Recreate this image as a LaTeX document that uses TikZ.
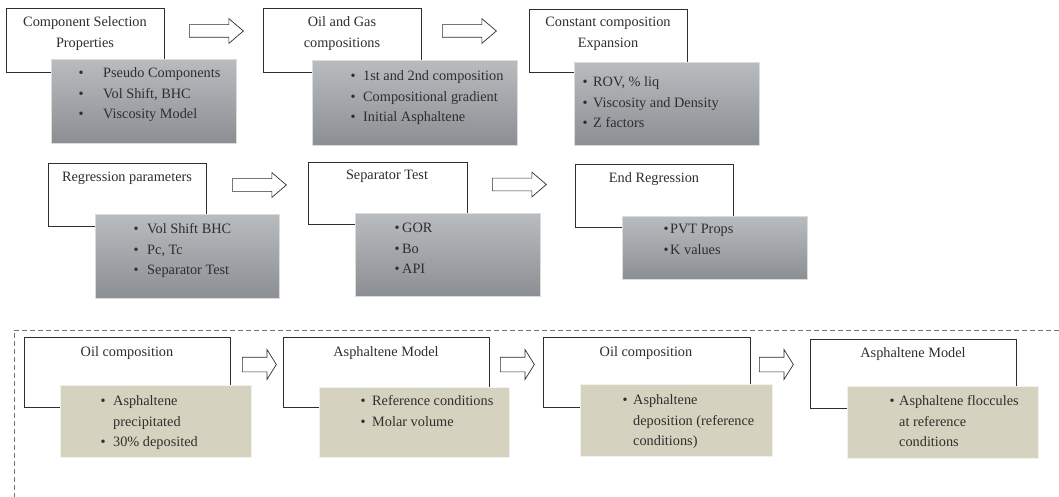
\documentclass[tikz,border=0pt]{standalone}
\usepackage{fontspec}
\setmainfont{Liberation Serif}
\usetikzlibrary{shapes.arrows}
\definecolor{graytop}{HTML}{B9BCBF}
\definecolor{graybot}{HTML}{8B8E92}
\definecolor{tanfill}{HTML}{D5D3BF}
\definecolor{edgelight}{HTML}{DCDCDC}
\definecolor{ink}{HTML}{2E2E2E}
\newcommand{\blist}[2]{\begin{tabular}[t]{@{}l@{\hspace{#1}}l@{}}#2\end{tabular}}
\newcommand{\hlines}[1]{\begin{tabular}[t]{@{}c@{}}#1\end{tabular}}
\tikzset{
  wbox/.style={rectangle, draw=ink, line width=0.9pt, fill=white, inner sep=0pt, anchor=north west},
  gbox/.style={rectangle, draw=edgelight, line width=1.2pt, top color=graytop, bottom color=graybot, inner sep=0pt, anchor=north west},
  tbox/.style={rectangle, draw=white!70!tanfill, line width=1.2pt, fill=tanfill, inner sep=0pt, anchor=north west},
  txt/.style={font=\fontsize{14.3}{20.7}\selectfont, text=ink, inner sep=0pt},
  head/.style={txt, anchor=base},
  list/.style={txt, anchor=base west},
  barrow/.style={single arrow, draw=ink, fill=white, line width=0.7pt, inner xsep=0pt, inner ysep=6pt,
    single arrow head extend=6pt, single arrow head indent=0pt, single arrow tip angle=81,
    minimum height=54pt, anchor=tail},
  sarrow/.style={barrow, inner ysep=7pt, single arrow head extend=7.5pt, single arrow tip angle=116, minimum height=34pt},
  frame/.style={draw=black!55, line width=0.8pt, dash pattern=on 5pt off 3pt}
}
\begin{document}
\begin{tikzpicture}[x=1pt,y=-1pt]
\useasboundingbox (0,0) rectangle (1059,497);
% row 1
\node[wbox, minimum width=158pt, minimum height=64pt] (w1) at (6,8) {};
\node[gbox, minimum width=185pt, minimum height=84pt] (g1) at (51,59) {};
\node[wbox, minimum width=158pt, minimum height=64pt] (w2) at (263,8) {};
\node[gbox, minimum width=205pt, minimum height=85pt] (g2) at (312,60) {};
\node[wbox, minimum width=158pt, minimum height=63pt] (w3) at (529,9) {};
\node[gbox, minimum width=185pt, minimum height=83pt] (g3) at (574,62) {};
\node[head] (h1) at (85,26.5) {\hlines{Component Selection\\Properties}};
\node[head] (h2) at (342,26.5) {\hlines{Oil and Gas\\compositions}};
\node[head] (h3) at (608,27) {\hlines{Constant composition\\Expansion}};
\node[list] (l1) at (78.5,77.5) {\blist{19.5pt}{\textbullet & Pseudo Components\\ \textbullet & Vol Shift, BHC\\ \textbullet & Viscosity Model}};
\node[list] (l2) at (350.5,80.5) {\blist{7.5pt}{\textbullet & 1st and 2nd composition\\ \textbullet & Compositional gradient\\ \textbullet & Initial Asphaltene}};
\node[list] (l3) at (582.5,86.5) {\blist{5.5pt}{\textbullet & ROV, \% liq\\ \textbullet & Viscosity and Density\\ \textbullet & Z factors}};
\node[barrow] (a1) at (189,31) {};
\node[barrow] (a2) at (442,31) {};
% row 2
\node[wbox, minimum width=158pt, minimum height=63pt] (w4) at (48,163) {};
\node[gbox, minimum width=184pt, minimum height=84pt] (g4) at (95,214) {};
\node[wbox, minimum width=159pt, minimum height=62pt] (w5) at (308,162) {};
\node[gbox, minimum width=185pt, minimum height=83pt] (g5) at (355,213) {};
\node[wbox, minimum width=158pt, minimum height=63pt] (w6) at (575,164) {};
\node[gbox, minimum width=185pt, minimum height=63pt] (g6) at (622,216) {};
\node[head] (h4) at (127,181.5) {Regression parameters};
\node[head] (h5) at (387,179.5) {Separator Test};
\node[head] (h6) at (654,182.5) {End Regression};
\node[list] (l4) at (133.5,233.5) {\blist{8.5pt}{\textbullet & Vol Shift BHC\\ \textbullet & Pc, Tc\\ \textbullet & Separator Test}};
\node[list] (l5) at (394.5,232.5) {\blist{2.5pt}{\textbullet & GOR\\ \textbullet & Bo\\ \textbullet & API}};
\node[list] (l6) at (663.5,233.5) {\blist{1.5pt}{\textbullet & PVT Props\\ \textbullet & K values}};
\node[barrow] (a4) at (232,185) {};
\node[barrow] (a5) at (492,184.5) {};
% row 3
\draw[frame] (1059,330) -| (14,497);
\node[wbox, minimum width=206pt, minimum height=70pt] (w7) at (24,337) {};
\node[tbox, minimum width=191pt, minimum height=72pt] (t7) at (60,385) {};
\node[wbox, minimum width=206pt, minimum height=70pt] (w8) at (283,337) {};
\node[tbox, minimum width=190pt, minimum height=70pt] (t8) at (319,387) {};
\node[wbox, minimum width=207pt, minimum height=70pt] (w9) at (543,337) {};
\node[tbox, minimum width=192pt, minimum height=72pt] (t9) at (580,384) {};
\node[wbox, minimum width=206pt, minimum height=69pt] (w10) at (810,339) {};
\node[tbox, minimum width=191pt, minimum height=72pt] (t10) at (847,386) {};
\node[head] (h7) at (127,356.5) {Oil composition};
\node[head] (h8) at (386,356.5) {Asphaltene Model};
\node[head] (h9) at (646,356.5) {Oil composition};
\node[head] (h10) at (913,357.5) {Asphaltene Model};
\node[list] (l7) at (100.5,405.5) {\blist{7.5pt}{\textbullet & Asphaltene\\ & precipitated\\ \textbullet & 30\% deposited}};
\node[list] (l8) at (360.5,405.5) {\blist{6.5pt}{\textbullet & Reference conditions\\ \textbullet & Molar volume}};
\node[list] (l9) at (622.5,404.5) {\blist{5.5pt}{\textbullet & Asphaltene\\ & deposition (reference\\ & conditions)}};
\node[list] (l10) at (889.5,405.5) {\blist{4.5pt}{\textbullet & Asphaltene floccules\\ & at reference\\ & conditions}};
\node[sarrow] (a7) at (242,364.5) {};
\node[sarrow] (a8) at (500,364.5) {};
\node[sarrow] (a9) at (759,364.5) {};
\end{tikzpicture}
\end{document}
